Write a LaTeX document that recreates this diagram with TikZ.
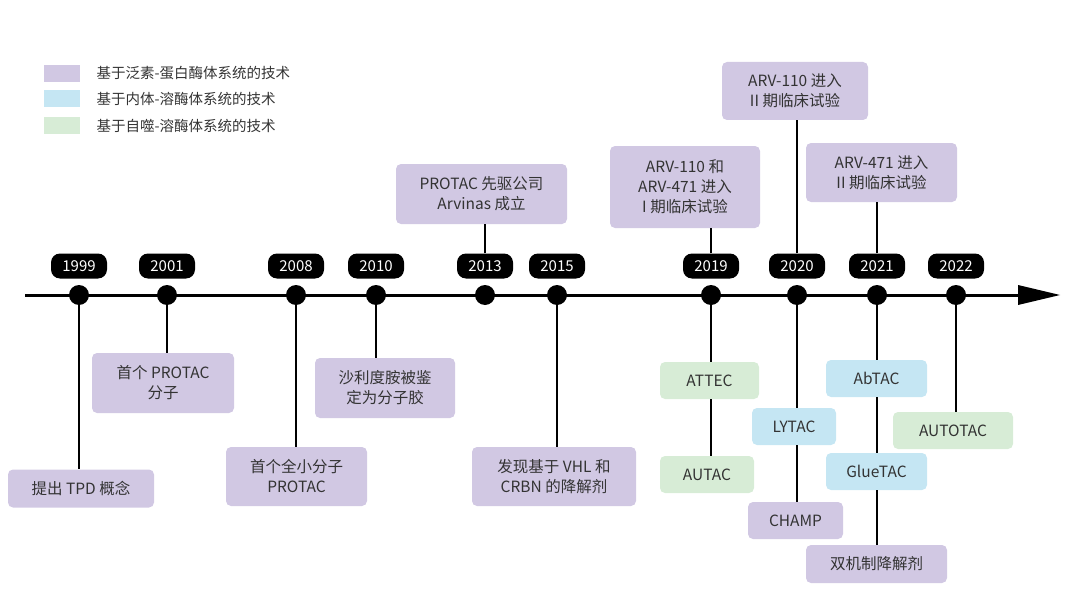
\documentclass[tikz,border=0pt]{standalone}
\usepackage{fontspec}
\setmainfont{Noto Sans CJK SC}
\begin{document}
\begin{tikzpicture}[x=1pt,y=-1pt,
  txt/.style={text=black!80, font=\fontsize{15.5}{20}\selectfont},
  box/.style={txt, rounded corners=5pt, align=center, inner sep=0pt, draw=none},
  ub/.style={box, fill=ubc}, eb/.style={box, fill=ebc}, ab/.style={box, fill=abc},
  yr/.style={fill=black, text=white, rounded corners=9pt, minimum width=56pt, minimum height=25pt, inner sep=0pt, font=\fontsize{15}{18}\selectfont},
  dot/.style={circle, fill=black, minimum size=20pt, inner sep=0pt},
  ln/.style={line width=1.2pt}]
\definecolor{ubc}{HTML}{D1C8E3}
\definecolor{ebc}{HTML}{C5E6F3}
\definecolor{abc}{HTML}{D7ECD6}
\useasboundingbox (0,0) rectangle (1080,594);
% legend
\fill[ubc] (44,65) rectangle (80,82);
\fill[ebc] (44,90) rectangle (80,107);
\fill[abc] (44,117) rectangle (80,134);
\node[txt,anchor=west,font=\fontsize{14.5}{18}\selectfont] (l1) at (93,73.5) {基于泛素-蛋白酶体系统的技术};
\node[txt,anchor=west,font=\fontsize{14.5}{18}\selectfont] (l2) at (93,99) {基于内体-溶酶体系统的技术};
\node[txt,anchor=west,font=\fontsize{14.5}{18}\selectfont] (l3) at (93,125.5) {基于自噬-溶酶体系统的技术};
% axis
\coordinate (a0) at (25,295);
\coordinate (a1) at (1020,295);
\draw[line width=3pt] (a0) -- (a1);
\fill (1018,285) -- (1060,295) -- (1018,305) -- cycle;
% dots and years
\foreach \n/\x in {1999/79,2001/167,2008/296,2010/376,2013/485,2015/557,2019/711,2020/797,2021/877,2022/956}{
  \node[dot] (d\n) at (\x,295) {};
  \node[yr] (y\n) at (\x,266) {\n};
}
% boxes
\node[ub,minimum width=146pt,minimum height=38pt] (b1999) at (81,488.5) {提出 TPD 概念};
\node[ub,minimum width=142pt,minimum height=60pt] (b2001) at (163,383) {首个 PROTAC\\分子};
\node[ub,minimum width=141pt,minimum height=59pt] (b2008) at (296.5,476.5) {首个全小分子\\PROTAC};
\node[ub,minimum width=140pt,minimum height=60pt] (b2010) at (385,388) {沙利度胺被鉴\\定为分子胶};
\node[ub,minimum width=171pt,minimum height=60pt] (b2013) at (481.5,194) {PROTAC 先驱公司\\Arvinas 成立};
\node[ub,minimum width=164pt,minimum height=59pt] (b2015) at (554,476.5) {发现基于 VHL 和\\CRBN 的降解剂};
\node[ub,minimum width=150pt,minimum height=82pt] (b2019) at (685,187) {ARV-110 和\\ARV-471 进入\\I 期临床试验};
\node[ub,minimum width=146pt,minimum height=58pt] (b2020) at (795,91) {ARV-110 进入\\II 期临床试验};
\node[ub,minimum width=151pt,minimum height=59pt] (b2021) at (881.5,172.5) {ARV-471 进入\\II 期临床试验};
\node[ab,minimum width=99pt,minimum height=37pt] (attec) at (709.5,380.5) {ATTEC};
\node[ab,minimum width=94pt,minimum height=37pt] (autac) at (707,474.5) {AUTAC};
\node[eb,minimum width=84pt,minimum height=37pt] (lytac) at (794,426.5) {LYTAC};
\node[ub,minimum width=95pt,minimum height=37pt] (champ) at (795.5,520.5) {CHAMP};
\node[eb,minimum width=101pt,minimum height=37pt] (abtac) at (876.5,378.5) {AbTAC};
\node[eb,minimum width=101pt,minimum height=37pt] (gluetac) at (876.5,471.5) {GlueTAC};
\node[ub,minimum width=141pt,minimum height=38pt] (dual) at (876.5,564) {双机制降解剂};
\node[ab,minimum width=120pt,minimum height=37pt] (autotac) at (953,430.5) {AUTOTAC};
% connectors
\draw[ln] (d1999) -- (d1999 |- b1999.north);
\draw[ln] (d2001) -- (d2001 |- b2001.north);
\draw[ln] (d2008) -- (d2008 |- b2008.north);
\draw[ln] (d2010) -- (d2010 |- b2010.north);
\draw[ln] (y2013) -- (y2013 |- b2013.south);
\draw[ln] (d2015) -- (d2015 |- b2015.north);
\draw[ln] (y2019) -- (y2019 |- b2019.south);
\draw[ln] (y2020) -- (y2020 |- b2020.south);
\draw[ln] (y2021) -- (y2021 |- b2021.south);
\draw[ln] (d2019) -- (d2019 |- attec.north);
\draw[ln] (d2019 |- attec.south) -- (d2019 |- autac.north);
\draw[ln] (d2020) -- (d2020 |- lytac.north);
\draw[ln] (d2020 |- lytac.south) -- (d2020 |- champ.north);
\draw[ln] (d2021) -- (d2021 |- abtac.north);
\draw[ln] (d2021 |- abtac.south) -- (d2021 |- gluetac.north);
\draw[ln] (d2021 |- gluetac.south) -- (d2021 |- dual.north);
\draw[ln] (d2022) -- (d2022 |- autotac.north);
\end{tikzpicture}
\end{document}
